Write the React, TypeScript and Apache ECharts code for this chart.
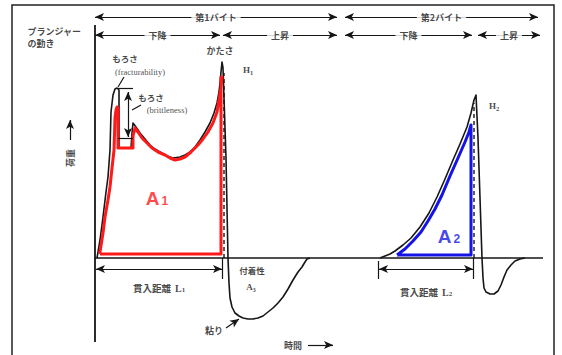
import React, { useEffect, useRef } from "react";
import * as echarts from "echarts";

type P = [number, number];

// time (x) / load (y) values; baseline load = 0
const firstBiteCurve: P[] = [
  [2, 0], [5, 18], [8, 41], [11, 66], [13, 81], [15, 108], [16, 146], [18, 163], [20, 169], [22, 170],
  [24, 168], [24, 110], [36, 110], [37, 125], [38, 135], [41, 131], [45, 125], [50, 119], [55, 113],
  [60, 109], [65, 106], [72, 102], [78, 100], [85, 101], [90, 103], [95, 106], [100, 111], [105, 118],
  [110, 126], [115, 135], [119, 145], [122, 155], [124, 166], [125, 175], [126, 186], [127, 196],
  [128, 190], [129, 160], [131, 100], [132, 50], [133, 0], [134, -25], [135, -40], [137, -49],
  [140, -55], [144, -58], [148, -60], [153, -61], [158, -61], [163, -60], [168, -58], [173, -54],
  [178, -50], [183, -45], [188, -39], [193, -31], [198, -22], [203, -14], [207, -9], [210, -4],
  [212, -1], [215, 0],
];
const secondBiteCurve: P[] = [
  [285, 0], [290, 2], [295, 4], [300, 7], [308, 13], [316, 20], [325, 31], [334, 45], [342, 61],
  [350, 79], [358, 98], [365, 114], [372, 131], [376, 145], [379, 158], [381, 163], [383, 120],
  [385, 60], [387, 0], [388, -20], [389, -30], [391, -34], [395, -36], [399, -36], [403, -33],
  [406, -27], [409, -19], [412, -12], [416, -7], [420, -3], [425, -1], [430, 0],
];
const areaA1: P[] = [
  [5, 4], [5, 6], [8, 25], [10, 41], [13, 58], [15, 71], [17, 90], [19, 108], [20, 140], [21, 148],
  [22, 151], [23, 150], [23, 110], [38, 110], [38, 122], [40, 130], [43, 126], [47, 120], [52, 115],
  [57, 110], [63, 106], [70, 103], [75, 100], [80, 98], [85, 99], [90, 101], [96, 106], [103, 113],
  [108, 119], [113, 126], [118, 135], [122, 146], [124, 158], [126, 170], [127, 181], [126, 181],
  [126, 4], [5, 4],
];
const areaA2: P[] = [
  [302, 3], [310, 9], [318, 17], [326, 26], [333, 37], [340, 49], [347, 63], [355, 82], [363, 100],
  [370, 116], [374, 126], [376, 133], [376, 3], [302, 3],
];
const biteLabels = ["第1バイト", "第2バイト"];
const biteRanges: P[] = [[0, 242], [250, 443]];
const strokeLabels = ["下降", "上昇", "下降", "上昇"];
const strokeRanges: P[] = [[0, 125], [128, 242], [250, 377], [383, 445]];
const timeRange: P = [0, 448];
const loadRange: P = [-84, 233];
const penetrationRanges: P[] = [[0, 127], [283, 378]];
const peakTimes = [129, 379];
const peakLoads = [185, 155];

const jp = '"Noto Sans CJK JP", "Noto Sans", sans-serif';
const serif = '"Liberation Serif", "DejaVu Serif", serif';
const ink = "#161616";

export default function App() {
  const ref = useRef<HTMLDivElement>(null);
  useEffect(() => {
    if (!ref.current) return;
    const chart = echarts.init(ref.current, undefined, { renderer: "svg" });

    const lines: any[] = [];
    const seg = (a: P, b: P, s1 = "none", s2 = "none") =>
      lines.push([{ coord: a, symbol: s1 }, { coord: b, symbol: s2 }]);

    const rowY = [241, 223];
    biteRanges.forEach((r) => seg([r[0], rowY[0]], [r[1], rowY[0]], "arrow", "arrow"));
    strokeRanges.forEach((r) => seg([r[0], rowY[1]], [r[1], rowY[1]], "arrow", "arrow"));
    // penetration distance dimension arrows
    penetrationRanges.forEach((r, i) => {
      seg([r[0] + 1, -11], [r[1], -11], "arrow", "arrow");
      if (i > 0) seg([r[0], -3], [r[0], -21]);
      seg([r[1], 0], [r[1], -21]);
    });
    // brittleness measure
    seg([23, 170], [38, 170]);
    seg([33, 166], [33, 121], "arrow", "arrow");
    seg([23, 120], [38, 120]);
    seg([29, 181], [23, 171]);
    seg([46, 153], [37, 148]);
    // load arrow, time arrow, 粘り pointer
    seg([-25, 118], [-25, 138], "none", "arrow");
    seg([213, -87], [238, -87], "none", "arrow");
    seg([131, -70], [144, -61], "none", "arrow");

    const note = (text: string, at: P, o: any = {}) => ({
      value: at,
      label: {
        show: true,
        formatter: text,
        position: o.left ? "right" : "inside",
        distance: 0,
        fontSize: o.size ?? 9,
        fontFamily: o.font ?? jp,
        fontWeight: o.bold === false ? "normal" : "bold",
        color: o.color ?? ink,
        rotate: o.rotate ?? 0,
        backgroundColor: o.bg ? "#ffffff" : "transparent",
        padding: o.bg ? [1, 4] : 0,
        rich: o.rich,
        lineHeight: o.lh,
      },
    });

    const subRich = (color: string, big: number, small: number) => ({
      a: { fontSize: big, fontWeight: "bold", color, fontFamily: '"Liberation Sans", "DejaVu Sans", sans-serif' },
      n: { fontSize: small, fontWeight: "bold", color, fontFamily: '"Liberation Sans", "DejaVu Sans", sans-serif', padding: [6, 0, 0, 2] },
    });
    const dimRich = {
      j: { fontSize: 9.5, fontWeight: "bold", fontFamily: jp, color: ink },
      s: { fontSize: 10, fontFamily: serif, color: ink, fontWeight: "bold" },
      u: { fontSize: 7, fontFamily: serif, color: ink, padding: [4, 0, 0, 0] },
    };
    const hRich = {
      s: { fontSize: 9, fontFamily: serif, color: ink },
      u: { fontSize: 6.5, fontFamily: serif, color: ink, padding: [4, 0, 0, 0] },
    };

    const notes: any[] = [
      ...biteLabels.map((t, i) => note(t, [(biteRanges[i][0] + biteRanges[i][1]) / 2, rowY[0]], { bg: true })),
      ...strokeLabels.map((t, i) => note(t, [(strokeRanges[i][0] + strokeRanges[i][1]) / 2, rowY[1]], { bg: true })),
      note("プランジャー", [-68, 227], { left: true }),
      note("の動き", [-68, 215], { left: true }),
      note("荷重", [-25, 100], { rotate: 90 }),
      note("かたさ", [125, 208]),
      note("{s|H}{u|1}", [153, 188], { rich: hRich }),
      note("{s|H}{u|2}", [399, 152], { rich: hRich }),
      note("もろさ", [30, 200], { size: 8.5 }),
      note("(fracturability)", [45, 186], { size: 8.5, font: serif, bold: false }),
      note("もろさ", [56, 161], { size: 8.5 }),
      note("(brittleness)", [72, 148], { size: 8.5, font: serif, bold: false }),
      note("{a|A}{n|1}", [62, 60], { rich: subRich("#ff1a1a", 19, 12) }),
      note("{a|A}{n|2}", [354, 22], { rich: subRich("#1414e6", 19, 12) }),
      note("付着性", [157, -12], { size: 8.5 }),
      note("{s|A}{u|3}", [156, -29], { rich: hRich }),
      note("{j|貫入距離}  {s|L}{u|1}", [64, -30], { rich: dimRich }),
      note("{j|貫入距離}  {s|L}{u|2}", [331, -34], { rich: dimRich }),
      note("粘り", [119, -72], { size: 9 }),
      note("時間", [198, -87], { size: 9 }),
    ];

    const curve = (data: P[], color: string, width: number, z: number, type: any = "solid") => ({
      type: "line",
      data,
      showSymbol: false,
      symbol: "none",
      silent: true,
      z,
      lineStyle: { color, width, type, cap: "butt", join: "round" },
    });

    chart.setOption({
      animation: false,
      backgroundColor: "#ffffff",
      grid: { left: 0, right: 0, top: 0, bottom: 0, containLabel: false },
      xAxis: { type: "value", min: -95, max: 467, show: false },
      yAxis: { type: "value", min: -97, max: 258, show: false },
      graphic: [
        {
          type: "rect",
          shape: { x: 12, y: 5, width: 542, height: 370 },
          style: { fill: "none", stroke: "#222", lineWidth: 1.5 },
          silent: true,
        },
      ],
      series: [
        {
          ...curve([[timeRange[0], 0], [timeRange[1], 0]], ink, 1.6, 2),
          markLine: {
            silent: true,
            animation: false,
            symbolSize: [6, 9],
            label: { show: false },
            emphasis: { disabled: true },
            lineStyle: { color: ink, width: 1.2, type: "solid" },
            data: lines,
          },
        },
        curve([[0, loadRange[1]], [0, loadRange[0]]], ink, 1.8, 2),
        curve(firstBiteCurve, ink, 1.6, 2),
        curve(secondBiteCurve, ink, 1.6, 2),
        curve([[peakTimes[0], 0], [peakTimes[0], peakLoads[0]]], ink, 1.4, 2, [4, 3]),
        curve([[peakTimes[1], 0], [peakTimes[1], peakLoads[1]]], ink, 1.4, 2, [4, 3]),
        curve(areaA1, "#ff1a1a", 3, 3),
        curve(areaA2, "#1414e6", 3, 3),
        {
          type: "scatter",
          symbolSize: 1,
          silent: true,
          z: 5,
          itemStyle: { color: "rgba(0,0,0,0)" },
          data: notes,
        },
      ],
    });
    return () => chart.dispose();
  }, []);
  return (
    <div
      ref={ref}
      style={{ position: "absolute", left: 0, top: 0, width: 562, height: 355, background: "#fff" }}
    />
  );
}
